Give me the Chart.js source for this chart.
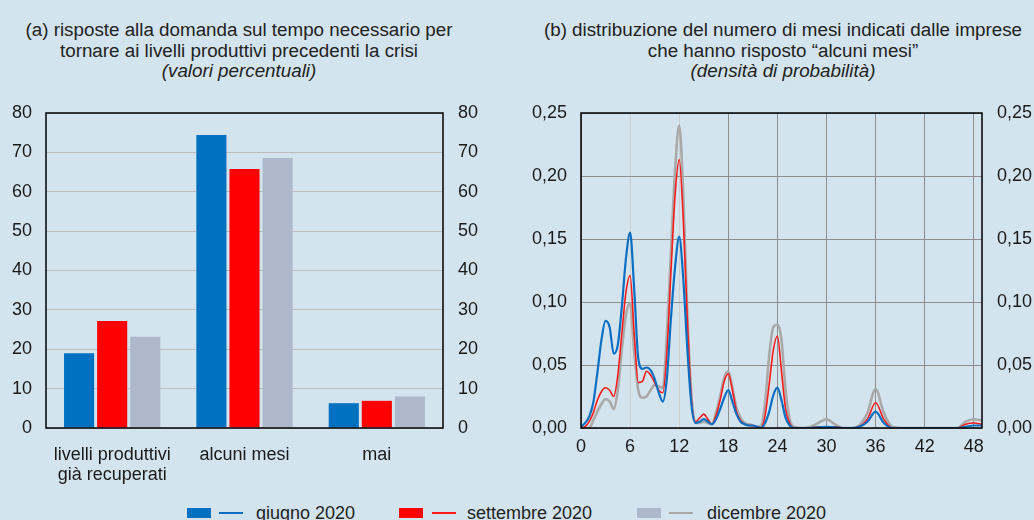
<!DOCTYPE html>
<html>
<head>
<meta charset="utf-8">
<script src="https://cdn.jsdelivr.net/npm/chart.js@4.4.1/dist/chart.umd.min.js"></script>
<style>
  html, body { margin: 0; padding: 0; }
  body { width: 1034px; height: 520px; background: #d3e4ee; overflow: hidden; position: relative;
         font-family: "Liberation Sans", Arial, sans-serif; color: #222; }
  .riga { position: absolute; width: 600px; text-align: center; font-size: 18.8px; line-height: 21px; white-space: nowrap; }
  .riga.it { font-style: italic; }
  canvas { position: absolute; top: 0; }
  .leg { position: absolute; }
  .legtxt { position: absolute; font-size: 18px; line-height: 18px; top: 504px; white-space: nowrap; }
</style>
</head>
<body>

<div class="riga" style="left:-61px;top:19px">(a) risposte alla domanda sul tempo necessario per</div>
<div class="riga" style="left:-61px;top:40px">tornare ai livelli produttivi precedenti la crisi</div>
<div class="riga it" style="left:-61px;top:60px">(valori percentuali)</div>
<div class="riga" style="left:483px;top:19px">(b) distribuzione del numero di mesi indicati dalle imprese</div>
<div class="riga" style="left:483px;top:40px">che hanno risposto “alcuni mesi”</div>
<div class="riga it" style="left:483px;top:60px">(densità di probabilità)</div>

<canvas id="barre" width="517" height="490" style="left:0"></canvas>
<canvas id="densita" width="517" height="490" style="left:517px"></canvas>
<div id="legenda"></div>

<script>
// ---- dati pannello (a): valori percentuali ----
var categorie = [['livelli produttivi', 'già recuperati'], 'alcuni mesi', 'mai'];
var barreGiugno = [19.0, 74.4, 6.3];
var barreSettembre = [27.2, 65.8, 6.9];
var barreDicembre = [23.2, 68.6, 8.0];
var tickBarre = [0, 10, 20, 30, 40, 50, 60, 70, 80];

// ---- dati pannello (b): densità per numero di mesi ----
var mesi = [0, 0.5, 1, 1.5, 2, 2.5, 3, 3.5, 4, 4.5, 5, 5.5, 6, 6.5, 7, 7.5, 8, 8.5, 9, 9.5,
            10, 10.5, 11, 11.5, 12, 12.5, 13, 13.5, 14, 14.5, 15, 15.5, 16, 16.5, 17, 17.5, 18, 18.5, 19, 19.5,
            20, 20.5, 21, 21.5, 22, 22.5, 23, 23.5, 24, 24.5, 25, 25.5, 26,
            27, 28, 29, 30, 31, 32, 33, 34, 35, 36, 37, 38, 39, 40, 41, 42, 43, 44, 45, 46, 47, 48, 49];
var densGiugno = [0.001, 0.004, 0.009, 0.020, 0.044, 0.070, 0.085, 0.080, 0.059, 0.066, 0.097, 0.135, 0.155, 0.110, 0.055, 0.047, 0.048, 0.046, 0.039, 0.028,
                  0.021, 0.040, 0.088, 0.128, 0.152, 0.118, 0.062, 0.018, 0.004, 0.005, 0.007, 0.005, 0.003, 0.007, 0.015, 0.024, 0.030, 0.021, 0.011, 0.005,
                  0.003, 0.002, 0.002, 0.001, 0.000, 0.004, 0.013, 0.026, 0.032, 0.022, 0.008, 0.002, 0.000,
                  0, 0, 0.0005, 0.001, 0.0005, 0, 0, 0.001, 0.005, 0.013, 0.004, 0, 0, 0, 0, 0, 0, 0, 0, 0, 0.001, 0.002, 0.002];
var densSettembre = [0.000, 0.001, 0.005, 0.012, 0.022, 0.029, 0.032, 0.030, 0.025, 0.042, 0.076, 0.108, 0.121, 0.075, 0.036, 0.037, 0.045, 0.042, 0.036, 0.030,
                     0.028, 0.060, 0.125, 0.185, 0.213, 0.165, 0.085, 0.022, 0.005, 0.008, 0.011, 0.007, 0.003, 0.010, 0.022, 0.037, 0.043, 0.030, 0.013, 0.006,
                     0.003, 0.002, 0.002, 0.001, 0.000, 0.010, 0.035, 0.062, 0.073, 0.045, 0.015, 0.004, 0.000,
                     0, 0, 0.001, 0.001, 0.001, 0, 0, 0.001, 0.007, 0.020, 0.007, 0, 0, 0, 0, 0, 0, 0, 0, 0, 0.003, 0.004, 0.003];
var densDicembre = [0.000, 0.000, 0.000, 0.006, 0.013, 0.019, 0.023, 0.021, 0.015, 0.030, 0.063, 0.090, 0.099, 0.060, 0.030, 0.024, 0.025, 0.030, 0.034, 0.033,
                    0.032, 0.075, 0.140, 0.205, 0.240, 0.185, 0.090, 0.025, 0.004, 0.004, 0.005, 0.004, 0.003, 0.012, 0.025, 0.040, 0.045, 0.032, 0.016, 0.008,
                    0.004, 0.003, 0.002, 0.001, 0.002, 0.020, 0.058, 0.080, 0.082, 0.070, 0.030, 0.007, 0.001,
                    0, 0.001, 0.004, 0.007, 0.003, 0, 0, 0.002, 0.012, 0.031, 0.012, 0.001, 0, 0, 0, 0, 0, 0, 0, 0, 0.005, 0.007, 0.006];
var tickMesi = [0, 6, 12, 18, 24, 30, 36, 42, 48];
var tickDensita = [0, 0.05, 0.10, 0.15, 0.20, 0.25];

var serie = ['giugno 2020', 'settembre 2020', 'dicembre 2020'];
var coloriBarre = ['#0070c0', '#ff0000', '#adb9cb'];
var coloriLinee = ['#0a6fc2', '#ff1a1a', '#a9a9a9'];

var FONT = { family: '"Liberation Sans", Arial, sans-serif', size: 18, lineHeight: 1.1 };

// cornice nera attorno all'area del grafico
var cornice = {
    id: 'cornice',
    afterDraw: function(chart) {
        var a = chart.chartArea, c = chart.ctx;
        c.save();
        c.strokeStyle = '#000';
        c.lineWidth = 1.5;
        c.strokeRect(a.left, a.top, a.right - a.left, a.bottom - a.top);
        c.restore();
    }
};

function fissaTick(valori) {
    return function(scale) {
        scale.ticks = valori.map(function(v) { return { value: v }; });
    };
}

function puntiDa(valori) {
    return mesi.map(function(m, i) { return { x: m, y: valori[i] }; });
}

/**
 *  Pannello (a): barre
 */
new Chart(document.getElementById('barre').getContext('2d'), {
    type: 'bar',
    data: {
        labels: categorie,
        datasets: [
            { label: serie[0], data: barreGiugno, backgroundColor: coloriBarre[0] },
            { label: serie[1], data: barreSettembre, backgroundColor: coloriBarre[1] },
            { label: serie[2], data: barreDicembre, backgroundColor: coloriBarre[2] }
        ]
    },
    options: {
        responsive: false,
        animation: false,
        devicePixelRatio: 1,
        categoryPercentage: 0.75,
        barPercentage: 0.91,
        layout: { padding: { top: 113, left: 0, right: 0, bottom: 0 } },
        plugins: { legend: { display: false }, tooltip: { enabled: false } },
        scales: {
            x: {
                grid: { display: false },
                border: { display: false },
                ticks: { font: FONT, color: '#1a1a1a', padding: 9, maxRotation: 0, autoSkip: false },
                afterFit: function(s) { s.height = 62; }
            },
            y: {
                min: 0, max: 80,
                afterBuildTicks: fissaTick(tickBarre),
                grid: { color: '#bdbdbd', drawTicks: false, lineWidth: 1 },
                border: { display: false },
                ticks: { font: FONT, color: '#1a1a1a', padding: 14 },
                afterFit: function(s) { s.width = 46; }
            },
            y2: {
                position: 'right',
                min: 0, max: 80,
                afterBuildTicks: fissaTick(tickBarre),
                grid: { display: false, drawTicks: false },
                border: { display: false },
                ticks: { font: FONT, color: '#1a1a1a', padding: 15 },
                afterFit: function(s) { s.width = 74; }
            }
        }
    },
    plugins: [cornice]
});

/**
 *  Pannello (b): curve di densità
 */
var formatoVirgola = function(v) { return v.toFixed(2).replace('.', ','); };

new Chart(document.getElementById('densita').getContext('2d'), {
    type: 'line',
    data: {
        datasets: [
            { label: serie[0], data: puntiDa(densGiugno), borderColor: coloriLinee[0], borderWidth: 2.2 },
            { label: serie[1], data: puntiDa(densSettembre), borderColor: coloriLinee[1], borderWidth: 1.6 },
            { label: serie[2], data: puntiDa(densDicembre), borderColor: coloriLinee[2], borderWidth: 2.6 }
        ]
    },
    options: {
        responsive: false,
        animation: false,
        devicePixelRatio: 1,
        elements: { point: { radius: 0 }, line: { cubicInterpolationMode: 'monotone', fill: false } },
        layout: { padding: { top: 113, left: 0, right: 0, bottom: 0 } },
        plugins: { legend: { display: false }, tooltip: { enabled: false } },
        scales: {
            x: {
                type: 'linear',
                min: 0, max: 49,
                afterBuildTicks: fissaTick(tickMesi),
                grid: {
                    drawTicks: false,
                    color: function(ctx) {
                        var v = ctx.tick ? ctx.tick.value : 0;
                        return (v === 6 || v === 12) ? '#cfcfcf' : '#8f8f8f';
                    }
                },
                border: { display: false },
                ticks: { font: FONT, color: '#1a1a1a', padding: 9, maxRotation: 0 },
                afterFit: function(s) { s.height = 62; }
            },
            y: {
                min: 0, max: 0.25,
                afterBuildTicks: fissaTick(tickDensita),
                grid: { color: '#8f8f8f', drawTicks: false },
                border: { display: false },
                ticks: { font: FONT, color: '#1a1a1a', padding: 14, callback: formatoVirgola },
                afterFit: function(s) { s.width = 64; }
            },
            y2: {
                position: 'right',
                min: 0, max: 0.25,
                afterBuildTicks: fissaTick(tickDensita),
                grid: { display: false, drawTicks: false },
                border: { display: false },
                ticks: { font: FONT, color: '#1a1a1a', padding: 15, callback: formatoVirgola },
                afterFit: function(s) { s.width = 52; }
            }
        }
    },
    plugins: [cornice]
});

// legenda: riquadro della barra + tratto della curva + testo
var legBox = [187, 399, 637];
var legTratto = [219, 432, 669];
var legTesto = [256, 467, 707];
var leg = document.getElementById('legenda');
for (var i = 0; i < serie.length; i++) {
    var box = document.createElement('div');
    box.className = 'leg';
    box.style.cssText = 'left:' + legBox[i] + 'px;top:508px;width:24px;height:10px;background:' + coloriBarre[i];
    leg.appendChild(box);
    var tratto = document.createElement('div');
    tratto.className = 'leg';
    tratto.style.cssText = 'left:' + legTratto[i] + 'px;top:512px;width:24px;height:2px;background:' + coloriLinee[i];
    leg.appendChild(tratto);
    var txt = document.createElement('div');
    txt.className = 'legtxt';
    txt.style.left = legTesto[i] + 'px';
    txt.textContent = serie[i];
    leg.appendChild(txt);
}
</script>
</body>
</html>
